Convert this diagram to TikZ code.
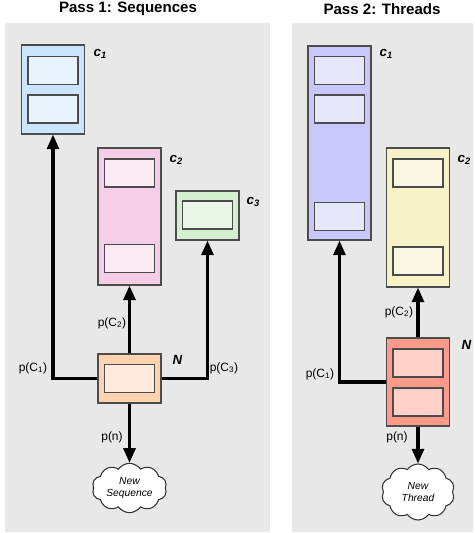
\documentclass[tikz,border=0pt]{standalone}
\usepackage{fontspec}
\setmainfont{Liberation Sans}
\usetikzlibrary{arrows.meta,shapes.symbols}

\definecolor{panelgray}{RGB}{232,232,232}
\definecolor{seqblue}{RGB}{204,229,255}
\definecolor{seqbluein}{RGB}{233,243,253}
\definecolor{seqpink}{RGB}{246,205,230}
\definecolor{seqpinkin}{RGB}{249,234,243}
\definecolor{seqgreen}{RGB}{213,240,208}
\definecolor{seqgreenin}{RGB}{233,245,231}
\definecolor{seqpeach}{RGB}{255,211,175}
\definecolor{seqpeachin}{RGB}{255,234,222}
\definecolor{thrlilac}{RGB}{199,199,250}
\definecolor{thrlilacin}{RGB}{231,231,251}
\definecolor{thryellow}{RGB}{248,242,200}
\definecolor{thryellowin}{RGB}{250,248,228}
\definecolor{thrsalmon}{RGB}{255,155,136}
\definecolor{thrsalmonin}{RGB}{255,209,201}

\begin{document}
\begin{tikzpicture}[x=0.75pt,y=-0.75pt,
  panel/.style={fill=panelgray,draw=none},
  title/.style={font=\fontsize{11.3}{13}\selectfont\bfseries},
  cluster/.style={draw=black!70,line width=0.8pt,inner sep=0pt,minimum width=47.25pt},
  slot/.style={draw=black!70,line width=0.8pt,inner sep=0pt,minimum width=37.5pt,minimum height=21pt},
  tag/.style={anchor=west,font=\fontsize{10}{12}\selectfont\bfseries\itshape},
  prob/.style={font=\fontsize{9}{11}\selectfont},
  newone/.style={cloud,cloud puffs=10,cloud puff arc=110,cloud ignores aspect,draw=black!80,fill=white,
    line width=0.8pt,inner sep=0pt,align=center,font=\fontsize{7.7}{9}\selectfont\itshape},
  flow/.style={line width=2.3pt,-{Triangle[length=11pt,width=9pt]}}]
  \useasboundingbox (0,0) rectangle (475,533);
  \fill[panel] (5,23) rectangle (270,532);
  \fill[panel] (292,23) rectangle (473,532);
  \node[title] (t1) at (128,9) {Pass 1: Sequences};
  \node[title] (t2) at (382,9) {Pass 2: Threads};

  % pass 1
  \node[cluster,fill=seqblue,minimum height=66.75pt] (sc1) at (53,89.5) {};
  \node[slot,fill=seqbluein] (sc1a) at (53,70.5) {};
  \node[slot,fill=seqbluein] (sc1b) at (53,109) {};
  \node[cluster,fill=seqpink,minimum height=102.75pt] (sc2) at (129.5,216.5) {};
  \node[slot,fill=seqpinkin] (sc2a) at (129.5,173) {};
  \node[slot,fill=seqpinkin] (sc2b) at (129.5,258.5) {};
  \node[cluster,fill=seqgreen,minimum height=36.75pt] (sc3) at (207.5,215.5) {};
  \node[slot,fill=seqgreenin] (sc3a) at (207.5,215) {};
  \node[cluster,fill=seqpeach,minimum height=36.75pt] (sn) at (129.5,378.5) {};
  \node[slot,fill=seqpeachin] (sna) at (129.5,378.5) {};
  \node[newone,minimum width=56pt,minimum height=37pt] (snew) at (129.5,488) {New\\Sequence};
  \node[tag] (sc1l) at (89,54) {c\textsubscript{1}};
  \node[tag] (sc2l) at (165,160) {c\textsubscript{2}};
  \node[tag] (sc3l) at (242,202) {c\textsubscript{3}};
  \node[tag] (snl) at (168,360) {N};
  \draw[flow] (sn.west) -| (sc1.south);
  \draw[flow] (sn.east) -| (sc3.south);
  \draw[flow] (sn.north) -- (sc2.south);
  \draw[flow] (sn.south) -- (snew.north);
  \node[prob] (sp1) at (33,368) {p(C\textsubscript{1})};
  \node[prob] (sp2) at (112,323) {p(C\textsubscript{2})};
  \node[prob] (sp3) at (224,368) {p(C\textsubscript{3})};
  \node[prob] (spn) at (112,437) {p(n)};

  % pass 2
  \node[cluster,fill=thrlilac,minimum height=145.5pt] (tc1) at (339.5,143) {};
  \foreach \y/\s in {70.5/a,109/b,216.5/c}
    \node[slot,fill=thrlilacin] (tc1\s) at (339.5,\y) {};
  \node[cluster,fill=thryellow,minimum height=104.25pt] (tc2) at (418,217.5) {};
  \node[slot,fill=thryellowin] (tc2a) at (418,173) {};
  \node[slot,fill=thryellowin] (tc2b) at (418,261) {};
  \node[cluster,fill=thrsalmon,minimum height=66pt] (tn) at (418,382) {};
  \node[slot,fill=thrsalmonin] (tna) at (418,363) {};
  \node[slot,fill=thrsalmonin] (tnb) at (418,402) {};
  \node[newone,minimum width=55pt,minimum height=42pt] (tnew) at (418,492) {New\\Thread};
  \node[tag] (tc1l) at (375,54) {c\textsubscript{1}};
  \node[tag] (tc2l) at (453,160) {c\textsubscript{2}};
  \node[tag] (tnl) at (457,345) {N};
  \draw[flow] (tn.west) -| (tc1.south);
  \draw[flow] (tn.north) -- (tc2.south);
  \draw[flow] (tn.south) -- (tnew.north);
  \node[prob] (tp1) at (320,374) {p(C\textsubscript{1})};
  \node[prob] (tp2) at (399,312) {p(C\textsubscript{2})};
  \node[prob] (tpn) at (397,437) {p(n)};
\end{tikzpicture}
\end{document}
